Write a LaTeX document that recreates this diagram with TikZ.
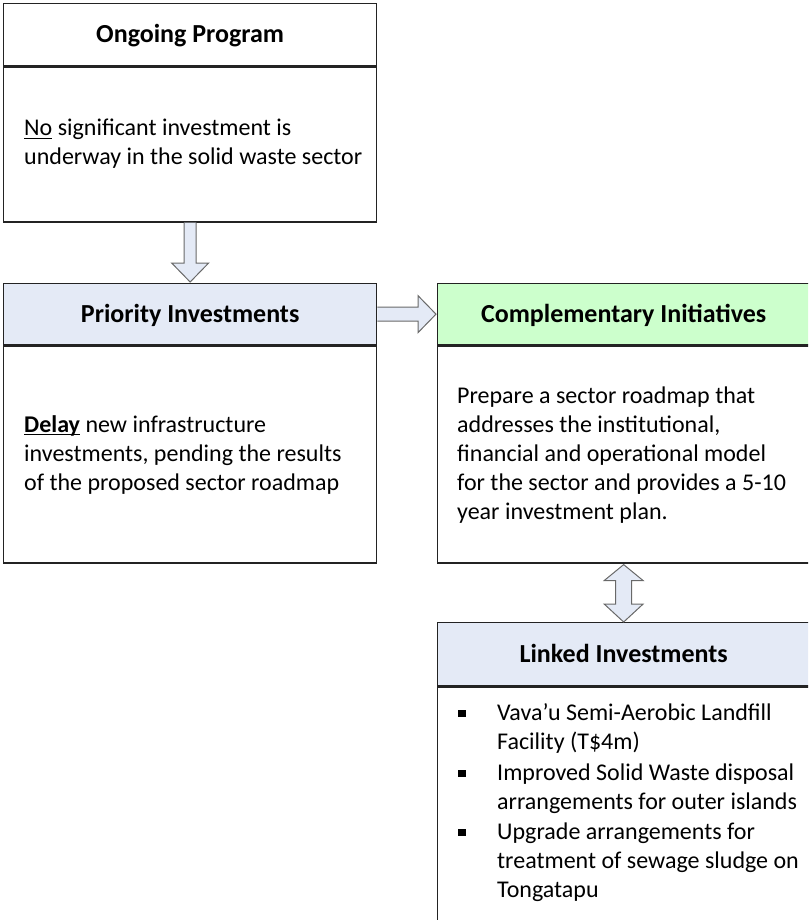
\documentclass[tikz,border=0pt]{standalone}
\usepackage{fontspec}
\setmainfont{Carlito}
\usetikzlibrary{calc}
\definecolor{hdrblue}{RGB}{228,234,246}
\definecolor{hdrgreen}{RGB}{204,255,204}
\definecolor{edgecol}{RGB}{35,35,35}
\definecolor{arrowedge}{RGB}{105,105,105}
\newcommand\myul[1]{\setbox0\hbox{#1}\rlap{\rule[-3.4pt]{\wd0}{1.3pt}}\box0\relax}
\begin{document}
\begin{tikzpicture}[x=1pt,y=-1pt,
  boxline/.style={draw=edgecol,line width=1.3pt},
  hdr/.style={boxline,anchor=north west,minimum width=373pt,inner sep=0pt,
    font=\fontsize{26}{31}\selectfont\bfseries,text height=16.7pt,text depth=0pt},
  bodybox/.style={boxline,anchor=north,inner sep=0pt,fill=white},
  txt/.style={anchor=base west,inner sep=0pt,font=\fontsize{24}{29.3}\selectfont},
  bul/.style={fill=black,minimum size=7.5pt,inner sep=0pt},
  arr/.style={fill=hdrblue,draw=arrowedge,line width=1pt,line join=miter}]
\useasboundingbox (0,0) rectangle (808,920);
\clip (0,0) rectangle (808,920);

% Ongoing Program
\node[hdr,fill=white,minimum height=62pt] (h1) at (3,3) {Ongoing Program};
\node[bodybox,minimum width=373pt,minimum height=155pt] (b1) at (h1.south) {};
\node[txt] (t1a) at (24,136) {\myul{No} significant investment is};
\node[txt] (t1b) at (24,165) {underway in the solid waste sector};

% Priority Investments
\node[hdr,fill=hdrblue,minimum height=61pt] (h2) at (3,283) {Priority Investments};
\node[bodybox,minimum width=373pt,minimum height=217pt] (b2) at (h2.south) {};
\node[txt] (t2a) at (24,432) {\myul{\textbf{Delay}} new infrastructure};
\node[txt] (t2b) at (24,461) {investments, pending the results};
\node[txt] (t2c) at (24,490) {of the proposed sector roadmap};

% Complementary Initiatives
\node[hdr,fill=hdrgreen,minimum width=372pt,minimum height=61pt] (h3) at (437,283) {Complementary Initiatives};
\node[bodybox,minimum width=372pt,minimum height=217pt] (b3) at (h3.south) {};
\node[txt] (t3a) at (457,403) {Prepare a sector roadmap that};
\node[txt] (t3b) at (457,432) {addresses the institutional,};
\node[txt] (t3c) at (457,461) {financial and operational model};
\node[txt] (t3d) at (457,490) {for the sector and provides a 5-10};
\node[txt] (t3e) at (457,519) {year investment plan.};

% Linked Investments
\node[hdr,fill=hdrblue,minimum width=372pt,minimum height=63pt] (h4) at (437,622) {Linked Investments};
\node[bodybox,minimum width=372pt,minimum height=245pt] (b4) at (h4.south) {};
\node[bul] (p1) at (462,713.5) {};
\node[bul] (p2) at (462,773.5) {};
\node[bul] (p3) at (462,832.5) {};
\node[txt] (t4a) at (497,720) {Vava’u Semi-Aerobic Landfill};
\node[txt] (t4b) at (497,749) {Facility (T\$4m)};
\node[txt] (t4c) at (497,780) {Improved Solid Waste disposal};
\node[txt] (t4d) at (497,809) {arrangements for outer islands};
\node[txt] (t4e) at (497,839) {Upgrade arrangements for};
\node[txt] (t4f) at (497,868) {treatment of sewage sludge on};
\node[txt] (t4g) at (497,897) {Tongatapu};

% down arrow: Ongoing -> Priority
\draw[arr] ($(b1.south)+(-6,0)$) -- ($(h2.north)+(-6,-20)$) -- ($(h2.north)+(-18.5,-20)$)
  -- ($(h2.north)+(0,-1)$) -- ($(h2.north)+(18.5,-20)$) -- ($(h2.north)+(6,-20)$)
  -- ($(b1.south)+(6,0)$);

% right arrow: Priority -> Complementary
\draw[arr] ($(h2.east)+(0,-7)$) -- ($(h3.west)+(-19,-7)$) -- ($(h3.west)+(-19,-18.5)$)
  -- ($(h3.west)+(-1,0)$) -- ($(h3.west)+(-19,18.5)$) -- ($(h3.west)+(-19,7)$)
  -- ($(h2.east)+(0,7)$);

% double arrow: Complementary <-> Linked
\draw[arr] ($(b3.south)+(0,1)$) -- ($(b3.south)+(19.5,17)$) -- ($(b3.south)+(8,17)$)
  -- ($(h4.north)+(8,-18)$) -- ($(h4.north)+(19.5,-18)$) -- ($(h4.north)+(0,0)$)
  -- ($(h4.north)+(-19.5,-18)$) -- ($(h4.north)+(-8,-18)$) -- ($(b3.south)+(-8,17)$)
  -- ($(b3.south)+(-19.5,17)$) -- cycle;
\end{tikzpicture}
\end{document}
